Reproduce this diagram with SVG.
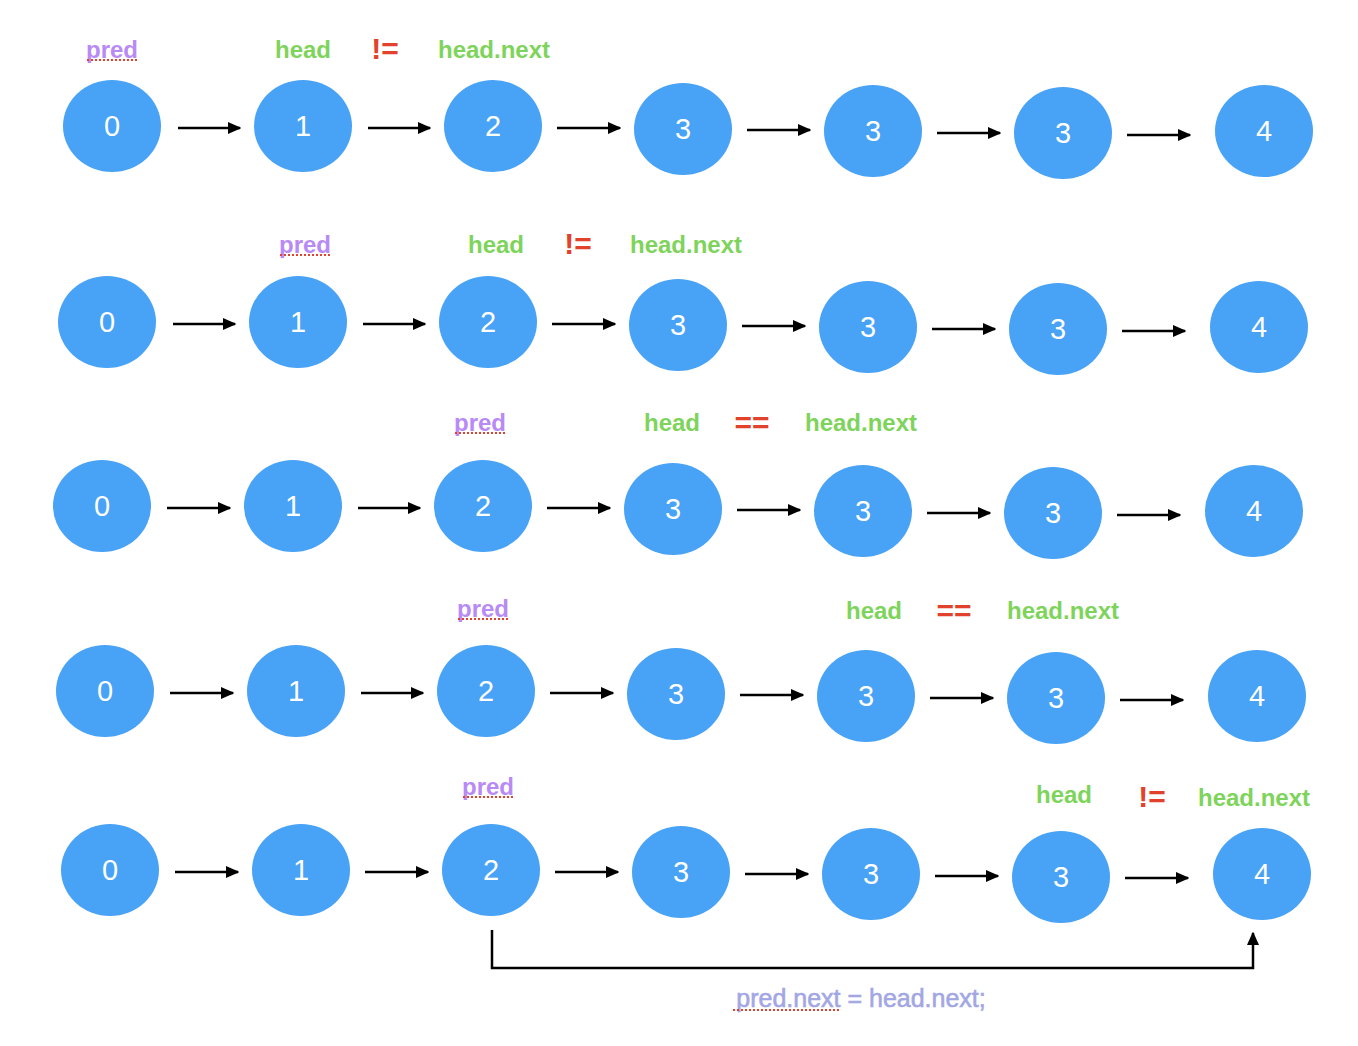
<svg xmlns="http://www.w3.org/2000/svg" width="1358" height="1046" viewBox="0 0 1358 1046">
<style>
.n ellipse{fill:#48a2f6}
.n text{font-family:"Liberation Sans",Arial,sans-serif;font-size:29px;fill:#fff;text-anchor:middle;dominant-baseline:central}
.lbl{font-family:"Liberation Sans",Arial,sans-serif;font-size:24px;font-weight:bold;text-anchor:middle}
.g{fill:#7ed45b}
.p{fill:#b88af6}
.r{fill:#e2412b;font-size:30px}
.ul{stroke:#e2412b;stroke-width:2;stroke-dasharray:2 2;fill:none}
.c line,.c path{stroke:#000;stroke-width:2.5;fill:none}
.bt{font-family:"Liberation Sans",Arial,sans-serif;font-size:25px;fill:#a2a7e4;stroke:#a2a7e4;stroke-width:0.6;text-anchor:middle}
</style>
<defs>
<marker id="ah" viewBox="0 0 10 10" refX="9" refY="5" markerWidth="5.5" markerHeight="5.5" orient="auto" markerUnits="strokeWidth">
<path d="M0,0.5 L10,5 L0,9.5 z" fill="#000"/>
</marker>
</defs>

<!-- Labels -->
<g id="labels">
<text class="lbl p" x="112" y="58">pred</text><path class="ul" d="M87,60 H138"/>
<text class="lbl g" x="303" y="58">head</text>
<text class="lbl r" x="385" y="59">!=</text>
<text class="lbl g" x="494" y="58">head.next</text>

<text class="lbl p" x="305" y="253">pred</text><path class="ul" d="M280,255 H331"/>
<text class="lbl g" x="496" y="253">head</text>
<text class="lbl r" x="578" y="254">!=</text>
<text class="lbl g" x="686" y="253">head.next</text>

<text class="lbl p" x="480" y="431">pred</text><path class="ul" d="M455,433 H506"/>
<text class="lbl g" x="672" y="431">head</text>
<text class="lbl r" x="752" y="433">==</text>
<text class="lbl g" x="861" y="431">head.next</text>

<text class="lbl p" x="483" y="617">pred</text><path class="ul" d="M458,619 H509"/>
<text class="lbl g" x="874" y="619">head</text>
<text class="lbl r" x="954" y="621">==</text>
<text class="lbl g" x="1063" y="619">head.next</text>

<text class="lbl p" x="488" y="795">pred</text><path class="ul" d="M463,797 H514"/>
<text class="lbl g" x="1064" y="803">head</text>
<text class="lbl r" x="1152" y="807">!=</text>
<text class="lbl g" x="1254" y="806">head.next</text>
</g>

<!-- Row 1 -->
<g id="r1n0" class="n"><ellipse cx="112" cy="126" rx="49" ry="46"/><text x="112" y="126">0</text></g>
<g id="r1n1" class="n"><ellipse cx="303" cy="126" rx="49" ry="46"/><text x="303" y="126">1</text></g>
<g id="r1n2" class="n"><ellipse cx="493" cy="126" rx="49" ry="46"/><text x="493" y="126">2</text></g>
<g id="r1n3" class="n"><ellipse cx="683" cy="129" rx="49" ry="46"/><text x="683" y="129">3</text></g>
<g id="r1n4" class="n"><ellipse cx="873" cy="131" rx="49" ry="46"/><text x="873" y="131">3</text></g>
<g id="r1n5" class="n"><ellipse cx="1063" cy="133" rx="49" ry="46"/><text x="1063" y="133">3</text></g>
<g id="r1n6" class="n"><ellipse cx="1264" cy="131" rx="49" ry="46"/><text x="1264" y="131">4</text></g>

<!-- Row 2 -->
<g id="r2n0" class="n"><ellipse cx="107" cy="322" rx="49" ry="46"/><text x="107" y="322">0</text></g>
<g id="r2n1" class="n"><ellipse cx="298" cy="322" rx="49" ry="46"/><text x="298" y="322">1</text></g>
<g id="r2n2" class="n"><ellipse cx="488" cy="322" rx="49" ry="46"/><text x="488" y="322">2</text></g>
<g id="r2n3" class="n"><ellipse cx="678" cy="325" rx="49" ry="46"/><text x="678" y="325">3</text></g>
<g id="r2n4" class="n"><ellipse cx="868" cy="327" rx="49" ry="46"/><text x="868" y="327">3</text></g>
<g id="r2n5" class="n"><ellipse cx="1058" cy="329" rx="49" ry="46"/><text x="1058" y="329">3</text></g>
<g id="r2n6" class="n"><ellipse cx="1259" cy="327" rx="49" ry="46"/><text x="1259" y="327">4</text></g>

<!-- Row 3 -->
<g id="r3n0" class="n"><ellipse cx="102" cy="506" rx="49" ry="46"/><text x="102" y="506">0</text></g>
<g id="r3n1" class="n"><ellipse cx="293" cy="506" rx="49" ry="46"/><text x="293" y="506">1</text></g>
<g id="r3n2" class="n"><ellipse cx="483" cy="506" rx="49" ry="46"/><text x="483" y="506">2</text></g>
<g id="r3n3" class="n"><ellipse cx="673" cy="509" rx="49" ry="46"/><text x="673" y="509">3</text></g>
<g id="r3n4" class="n"><ellipse cx="863" cy="511" rx="49" ry="46"/><text x="863" y="511">3</text></g>
<g id="r3n5" class="n"><ellipse cx="1053" cy="513" rx="49" ry="46"/><text x="1053" y="513">3</text></g>
<g id="r3n6" class="n"><ellipse cx="1254" cy="511" rx="49" ry="46"/><text x="1254" y="511">4</text></g>

<!-- Row 4 -->
<g id="r4n0" class="n"><ellipse cx="105" cy="691" rx="49" ry="46"/><text x="105" y="691">0</text></g>
<g id="r4n1" class="n"><ellipse cx="296" cy="691" rx="49" ry="46"/><text x="296" y="691">1</text></g>
<g id="r4n2" class="n"><ellipse cx="486" cy="691" rx="49" ry="46"/><text x="486" y="691">2</text></g>
<g id="r4n3" class="n"><ellipse cx="676" cy="694" rx="49" ry="46"/><text x="676" y="694">3</text></g>
<g id="r4n4" class="n"><ellipse cx="866" cy="696" rx="49" ry="46"/><text x="866" y="696">3</text></g>
<g id="r4n5" class="n"><ellipse cx="1056" cy="698" rx="49" ry="46"/><text x="1056" y="698">3</text></g>
<g id="r4n6" class="n"><ellipse cx="1257" cy="696" rx="49" ry="46"/><text x="1257" y="696">4</text></g>

<!-- Row 5 -->
<g id="r5n0" class="n"><ellipse cx="110" cy="870" rx="49" ry="46"/><text x="110" y="870">0</text></g>
<g id="r5n1" class="n"><ellipse cx="301" cy="870" rx="49" ry="46"/><text x="301" y="870">1</text></g>
<g id="r5n2" class="n"><ellipse cx="491" cy="870" rx="49" ry="46"/><text x="491" y="870">2</text></g>
<g id="r5n3" class="n"><ellipse cx="681" cy="872" rx="49" ry="46"/><text x="681" y="872">3</text></g>
<g id="r5n4" class="n"><ellipse cx="871" cy="874" rx="49" ry="46"/><text x="871" y="874">3</text></g>
<g id="r5n5" class="n"><ellipse cx="1061" cy="877" rx="49" ry="46"/><text x="1061" y="877">3</text></g>
<g id="r5n6" class="n"><ellipse cx="1262" cy="874" rx="49" ry="46"/><text x="1262" y="874">4</text></g>

<g id="connectors" class="c">
<line x1="178" y1="128" x2="240" y2="128" marker-end="url(#ah)"/>
<line x1="368" y1="128" x2="430" y2="128" marker-end="url(#ah)"/>
<line x1="557" y1="128" x2="620" y2="128" marker-end="url(#ah)"/>
<line x1="747" y1="130" x2="810" y2="130" marker-end="url(#ah)"/>
<line x1="937" y1="133" x2="1000" y2="133" marker-end="url(#ah)"/>
<line x1="1127" y1="135" x2="1190" y2="135" marker-end="url(#ah)"/>

<line x1="173" y1="324" x2="235" y2="324" marker-end="url(#ah)"/>
<line x1="363" y1="324" x2="425" y2="324" marker-end="url(#ah)"/>
<line x1="552" y1="324" x2="615" y2="324" marker-end="url(#ah)"/>
<line x1="742" y1="326" x2="805" y2="326" marker-end="url(#ah)"/>
<line x1="932" y1="329" x2="995" y2="329" marker-end="url(#ah)"/>
<line x1="1122" y1="331" x2="1185" y2="331" marker-end="url(#ah)"/>

<line x1="167" y1="508" x2="230" y2="508" marker-end="url(#ah)"/>
<line x1="358" y1="508" x2="420" y2="508" marker-end="url(#ah)"/>
<line x1="547" y1="508" x2="610" y2="508" marker-end="url(#ah)"/>
<line x1="737" y1="510" x2="800" y2="510" marker-end="url(#ah)"/>
<line x1="927" y1="513" x2="990" y2="513" marker-end="url(#ah)"/>
<line x1="1117" y1="515" x2="1180" y2="515" marker-end="url(#ah)"/>

<line x1="170" y1="693" x2="233" y2="693" marker-end="url(#ah)"/>
<line x1="361" y1="693" x2="423" y2="693" marker-end="url(#ah)"/>
<line x1="550" y1="693" x2="613" y2="693" marker-end="url(#ah)"/>
<line x1="740" y1="695" x2="803" y2="695" marker-end="url(#ah)"/>
<line x1="930" y1="698" x2="993" y2="698" marker-end="url(#ah)"/>
<line x1="1120" y1="700" x2="1183" y2="700" marker-end="url(#ah)"/>

<line x1="175" y1="872" x2="238" y2="872" marker-end="url(#ah)"/>
<line x1="365" y1="872" x2="428" y2="872" marker-end="url(#ah)"/>
<line x1="555" y1="872" x2="618" y2="872" marker-end="url(#ah)"/>
<line x1="745" y1="874" x2="808" y2="874" marker-end="url(#ah)"/>
<line x1="935" y1="876" x2="998" y2="876" marker-end="url(#ah)"/>
<line x1="1125" y1="878" x2="1188" y2="878" marker-end="url(#ah)"/>

<path d="M492,930 V968 H1253 V933" marker-end="url(#ah)"/>
</g>

<g id="bottom-label">
<text class="bt" x="861" y="1007">pred.next = head.next;</text>
<path class="ul" d="M733,1010 H841"/>
</g>
</svg>
